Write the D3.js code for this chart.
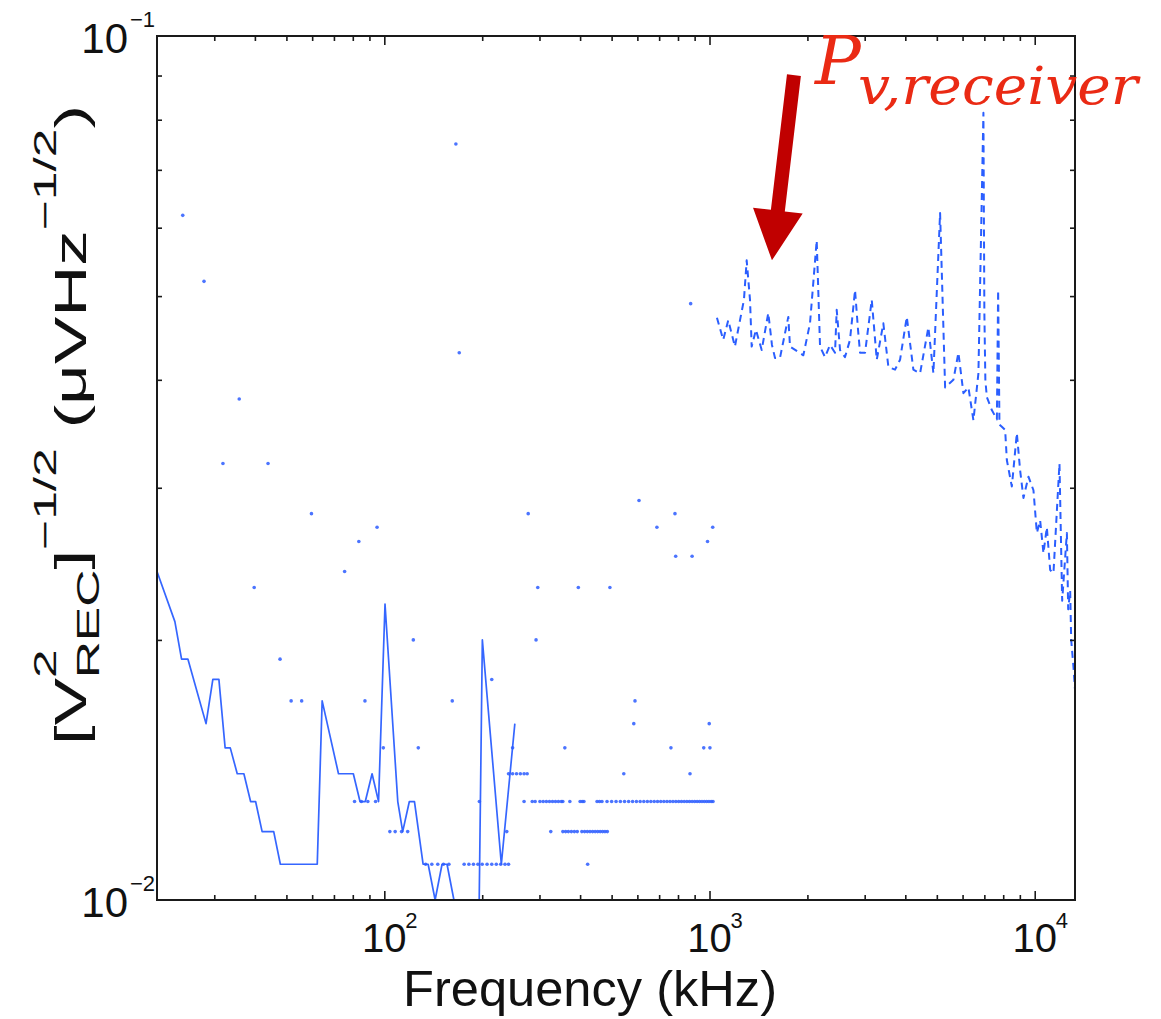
<!DOCTYPE html>
<html><head><meta charset="utf-8">
<script src="https://cdn.jsdelivr.net/npm/d3@7"></script>
<style>body{margin:0;background:#fff}svg{display:block}</style>
</head><body>
<script>
// ---------- data ----------
const solidFreq = [20, 22.7, 23.8, 24.9, 28.3, 29.7, 31, 32.4, 33.6, 35.3, 37, 38.8, 40.2, 42.1, 45.7, 47.9, 62.2, 64.4, 72.3, 80.3, 84.2, 87.4, 91.7, 96, 100.5, 110, 113.9, 119.4, 123.8, 131.6, 136.4, 143.3, 150.5, 155.9, 163.7, 195.8, 200.2, 229, 252];
const solidVal  = [0.024, 0.021, 0.019, 0.019, 0.016, 0.018, 0.018, 0.015, 0.015, 0.014, 0.014, 0.013, 0.013, 0.012, 0.012, 0.011, 0.011, 0.017, 0.014, 0.014, 0.013, 0.013, 0.014, 0.013, 0.022, 0.013, 0.012, 0.013, 0.013, 0.011, 0.011, 0.010, 0.011, 0.011, 0.010, 0.010, 0.020, 0.011, 0.016];

const dotFreq = [24.0, 27.9, 31.9, 35.8, 39.8, 43.9, 47.8, 51.7, 55.7, 59.7, 75.5, 83.5, 87.2, 95.0, 99.3, 122.8, 127.2, 161.8, 166, 170, 196, 214, 238, 248, 277, 292.8, 296.4, 359, 395, 422, 494, 545, 585, 590, 607, 689, 761, 783, 787, 871, 875, 884, 960, 986, 998, 1003, 1023,
  81, 85, 89, 94,
  104, 108, 113, 118,
  134, 140, 146, 152, 158, 176, 182, 188, 194, 200, 207, 214, 221, 228, 235, 241,
  241, 248, 255, 262, 269, 275,
  269, 285, 291, 301, 308, 315, 322, 329, 336, 343, 350, 354, 372, 400, 406, 411, 451, 459, 467, 484, 500, 516, 532, 548, 564, 580, 596, 612, 628, 644, 660, 676, 692, 708, 724, 740, 756, 772, 788, 804, 820, 836, 852, 868, 884, 900, 916, 932, 948, 964, 980, 996, 1012, 1025,
  325, 354, 361, 368, 376, 384, 392, 405, 413, 421, 429, 437, 445, 453, 461, 469, 477, 485];
const dotVal = [0.062, 0.052, 0.032, 0.038, 0.023, 0.032, 0.019, 0.017, 0.017, 0.028, 0.024, 0.026, 0.017, 0.027, 0.015, 0.020, 0.015, 0.017, 0.075, 0.043, 0.013, 0.018, 0.012, 0.015, 0.028, 0.020, 0.023, 0.015, 0.023, 0.011, 0.023, 0.014, 0.016, 0.017, 0.029, 0.027, 0.015, 0.028, 0.025, 0.014, 0.049, 0.025, 0.015, 0.026, 0.016, 0.015, 0.027,
  0.013, 0.013, 0.013, 0.013,
  0.012, 0.012, 0.012, 0.012,
  0.011, 0.011, 0.011, 0.011, 0.011, 0.011, 0.011, 0.011, 0.011, 0.011, 0.011, 0.011, 0.011, 0.011, 0.011, 0.011,
  0.014, 0.014, 0.014, 0.014, 0.014, 0.014,
  0.013, 0.013, 0.013, 0.013, 0.013, 0.013, 0.013, 0.013, 0.013, 0.013, 0.013, 0.013, 0.013, 0.013, 0.013, 0.013, 0.013, 0.013, 0.013, 0.013, 0.013, 0.013, 0.013, 0.013, 0.013, 0.013, 0.013, 0.013, 0.013, 0.013, 0.013, 0.013, 0.013, 0.013, 0.013, 0.013, 0.013, 0.013, 0.013, 0.013, 0.013, 0.013, 0.013, 0.013, 0.013, 0.013, 0.013, 0.013, 0.013, 0.013, 0.013, 0.013, 0.013, 0.013,
  0.012, 0.012, 0.012, 0.012, 0.012, 0.012, 0.012, 0.012, 0.012, 0.012, 0.012, 0.012, 0.012, 0.012, 0.012, 0.012, 0.012, 0.012];

const dashFreq = [1054, 1102, 1142, 1197, 1241, 1276, 1301, 1332, 1348, 1389, 1447, 1516, 1556, 1590, 1647, 1747, 1768, 1871, 1943, 2037, 2136, 2187, 2265, 2347, 2432, 2461, 2520, 2610, 2704, 2802, 2862, 2903, 3008, 3154, 3268, 3424, 3548, 3720, 3854, 4042, 4235, 4441, 4710, 4880, 5117, 5302, 5623, 5825, 6036, 6253, 6479, 6712, 6954, 7000, 7050, 7124, 7380, 7650, 7718, 7790, 7923, 8111, 8208, 8504, 8811, 9020, 9233, 9566, 9911, 10153, 10392, 10638, 10897, 11155, 11419, 11915, 12145, 12557, 12673, 12854, 12946, 13158, 13318];
const dashVal  = [0.0472, 0.0445, 0.0469, 0.0437, 0.0469, 0.0495, 0.0550, 0.0495, 0.0437, 0.0457, 0.0433, 0.0478, 0.0439, 0.0424, 0.0424, 0.0473, 0.0437, 0.0431, 0.0427, 0.0465, 0.0580, 0.0437, 0.0425, 0.0439, 0.0430, 0.0482, 0.0433, 0.0425, 0.0445, 0.0508, 0.0457, 0.0430, 0.0430, 0.0495, 0.0422, 0.0465, 0.0414, 0.0411, 0.0422, 0.0473, 0.0411, 0.0407, 0.0460, 0.0407, 0.0624, 0.0392, 0.0400, 0.0430, 0.0386, 0.0392, 0.0359, 0.0407, 0.0815, 0.0480, 0.0400, 0.0382, 0.0369, 0.0360, 0.0508, 0.0355, 0.0353, 0.0350, 0.0323, 0.0301, 0.0347, 0.0314, 0.0292, 0.0309, 0.0298, 0.0266, 0.0275, 0.0252, 0.0270, 0.0241, 0.0239, 0.0320, 0.0222, 0.0266, 0.0217, 0.0228, 0.0200, 0.0186, 0.0174];

const xMajorTicks = [100, 1000, 10000];
const xMajorExp   = ["2", "3", "4"];
const xMinorTicks = [30, 40, 50, 60, 70, 80, 90, 200, 300, 400, 500, 600, 700, 800, 900, 2000, 3000, 4000, 5000, 6000, 7000, 8000, 9000];
const yMajorTicks = [0.01, 0.1];
const yMajorExp   = ["\u22122", "\u22121"];
const yMinorTicks = [0.02, 0.03, 0.04, 0.05, 0.06, 0.07, 0.08, 0.09];

const xLabel = "Frequency (kHz)";
const annotMain = "P";
const annotSub = "v,receiver";
const arrowTail = [1818, 0.0901];
const arrowTip  = [1556, 0.0550];
const annotAnchor = [2110, 0.0885];

// ---------- drawing ----------
const W = 1161, H = 1019;
const L = 157, R = 1075, T = 36, B = 900;
const svg = d3.select("body").append("svg").attr("width", W).attr("height", H)
  .style("background", "#fff");

const x = d3.scaleLog().domain([20, 13300]).range([L, R]);
const y = d3.scaleLog().domain([0.01, 0.1]).range([B, T]);

const FONT = "'Liberation Sans', Arial, Helvetica, sans-serif";
const BLUE = "#1f55ff";

svg.append("defs").append("clipPath").attr("id", "clip")
  .append("rect").attr("x", L).attr("y", T).attr("width", R - L).attr("height", B - T);

const plot = svg.append("g").attr("clip-path", "url(#clip)");

// solid line
const solid = solidFreq.map((f, i) => [f, solidVal[i]]);
plot.append("path").datum(solid)
  .attr("d", d3.line().x(d => x(d[0])).y(d => y(d[1])))
  .attr("fill", "none").attr("stroke", BLUE).attr("stroke-width", 1.7)
  .attr("stroke-linejoin", "round").attr("opacity", 0.9);

// dots
const dots = dotFreq.map((f, i) => [f, dotVal[i]]);
plot.append("g").selectAll("circle").data(dots).join("circle")
  .attr("cx", d => x(d[0])).attr("cy", d => y(d[1])).attr("r", 1.8)
  .attr("fill", "#2b5cff").attr("opacity", 0.85);

// dashed spectrum
const dash = dashFreq.map((f, i) => [f, dashVal[i]]);
plot.append("path").datum(dash)
  .attr("d", d3.line().x(d => x(d[0])).y(d => y(d[1])))
  .attr("fill", "none").attr("stroke", BLUE).attr("stroke-width", 2)
  .attr("stroke-dasharray", "7,5").attr("stroke-linejoin", "round").attr("opacity", 0.95);

// axes (ticks inward on all four sides)
function axisGroup(gen, tx, ty) {
  const g = svg.append("g").attr("transform", `translate(${tx},${ty})`).call(gen);
  g.select(".domain").remove();
  g.selectAll(".tick line").attr("stroke", "#1a1a1a").attr("stroke-width", 1.6);
  g.selectAll(".tick text").remove();
  return g;
}
axisGroup(d3.axisBottom(x).tickValues(xMajorTicks).tickSize(-9).tickFormat(""), 0, B);
axisGroup(d3.axisBottom(x).tickValues(xMinorTicks).tickSize(-5).tickFormat(""), 0, B);
axisGroup(d3.axisTop(x).tickValues(xMajorTicks).tickSize(-9).tickFormat(""), 0, T);
axisGroup(d3.axisTop(x).tickValues(xMinorTicks).tickSize(-5).tickFormat(""), 0, T);
axisGroup(d3.axisLeft(y).tickValues(yMinorTicks).tickSize(-5).tickFormat(""), L, 0);
axisGroup(d3.axisRight(y).tickValues(yMinorTicks).tickSize(-5).tickFormat(""), R, 0);

svg.append("rect").attr("x", L).attr("y", T).attr("width", R - L).attr("height", B - T)
  .attr("fill", "none").attr("stroke", "#1a1a1a").attr("stroke-width", 2);

// x tick labels
xMajorTicks.forEach((t, i) => {
  svg.append("text").attr("x", x(t)).attr("y", 952).attr("text-anchor", "middle")
    .attr("font-family", FONT).attr("font-size", 40).attr("fill", "#111").text("10");
  svg.append("text").attr("x", x(t) + 21).attr("y", 928).attr("text-anchor", "start")
    .attr("font-family", FONT).attr("font-size", 22).attr("fill", "#111").text(xMajorExp[i]);
});
// y tick labels
yMajorTicks.forEach((t, i) => {
  svg.append("text").attr("x", 128).attr("y", y(t) + 17).attr("text-anchor", "end")
    .attr("font-family", FONT).attr("font-size", 42).attr("fill", "#111").text("10");
  svg.append("text").attr("x", 130).attr("y", y(t) - 9).attr("text-anchor", "start")
    .attr("font-family", FONT).attr("font-size", 22).attr("fill", "#111").text(yMajorExp[i]);
});

// x axis title
svg.append("text").attr("x", 590).attr("y", 1006).attr("text-anchor", "middle")
  .attr("font-family", FONT).attr("font-size", 50).attr("fill", "#111")
  .attr("textLength", 374).attr("lengthAdjust", "spacingAndGlyphs").text(xLabel);

// y axis title
const yl = svg.append("text").attr("transform", "translate(86,425) rotate(-90)")
  .attr("text-anchor", "middle").attr("font-family", FONT).attr("font-size", 44)
  .attr("fill", "#111").attr("textLength", 640).attr("lengthAdjust", "spacingAndGlyphs");
yl.append("tspan").text("[V");
yl.append("tspan").attr("font-size", 32).attr("dy", -30).text("2");
yl.append("tspan").attr("font-size", 32).attr("dx", -18).attr("dy", 43).text("REC");
yl.append("tspan").attr("dy", -13).text("]");
yl.append("tspan").attr("font-size", 32).attr("dy", -30).text("\u22121/2");
yl.append("tspan").attr("dy", 30).text(" (\u03bcVHz");
yl.append("tspan").attr("font-size", 32).attr("dy", -30).text("\u22121/2");
yl.append("tspan").attr("dy", 30).text(")");

// annotation arrow
const p0 = [x(arrowTail[0]), y(arrowTail[1])];
const p1 = [x(arrowTip[0]), y(arrowTip[1])];
const dx = p1[0] - p0[0], dy = p1[1] - p0[1];
const len = Math.hypot(dx, dy), ux = dx / len, uy = dy / len, nx = -uy, ny = ux;
const headLen = 50, headW = 25, shaftW = 7;
const hb = [p1[0] - ux * headLen, p1[1] - uy * headLen];
const arrowPts = [
  [p0[0] + nx * shaftW, p0[1] + ny * shaftW],
  [hb[0] + nx * shaftW, hb[1] + ny * shaftW],
  [hb[0] + nx * headW, hb[1] + ny * headW],
  p1,
  [hb[0] - nx * headW, hb[1] - ny * headW],
  [hb[0] - nx * shaftW, hb[1] - ny * shaftW],
  [p0[0] - nx * shaftW, p0[1] - ny * shaftW]
];
svg.append("path").attr("d", "M" + arrowPts.map(p => p.join(",")).join("L") + "Z")
  .attr("fill", "#c00000");

// annotation text
const ax = x(annotAnchor[0]), ay = y(annotAnchor[1]);
svg.append("text").attr("x", ax).attr("y", ay + 2)
  .attr("font-family", "'DejaVu Serif', 'Liberation Serif', serif").attr("font-style", "italic")
  .attr("font-size", 68).attr("fill", "#ea2a14").text(annotMain);
svg.append("text").attr("x", ax + 43).attr("y", ay + 22)
  .attr("font-family", "'DejaVu Serif', 'Liberation Serif', serif").attr("font-style", "italic")
  .attr("font-size", 52).attr("fill", "#ea2a14")
  .attr("textLength", 280).attr("lengthAdjust", "spacingAndGlyphs").text(annotSub);
</script>
</body></html>
